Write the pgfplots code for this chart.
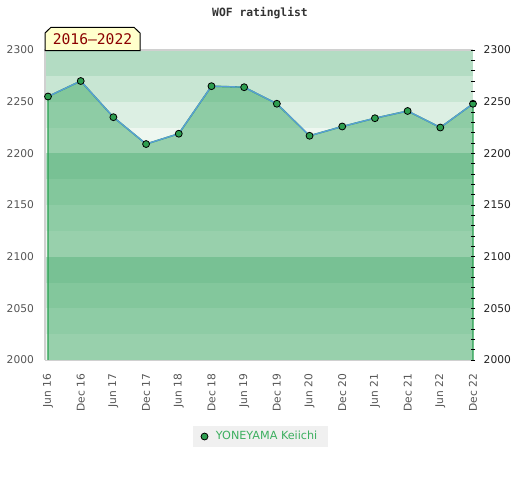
\documentclass[border=0pt]{standalone}
\usepackage{fontspec}
\setmainfont{DejaVu Sans}
\newfontfamily\monofont{DejaVu Sans Mono}
\usepackage{pgfplots}
\usepackage{pgfplotstable}
\pgfplotsset{compat=1.18}
\definecolor{bandA}{HTML}{EEF7F0}
\definecolor{bandB}{HTML}{DCEFE3}
\definecolor{bandC}{HTML}{C8E6D3}
\definecolor{bandD}{HTML}{B3DCC3}
\definecolor{fillG}{RGB}{49,162,91}
\definecolor{edgeG}{RGB}{40,160,80}
\definecolor{lineB}{RGB}{90,158,214}
\definecolor{markG}{RGB}{46,158,80}
\definecolor{legG}{RGB}{60,175,95}
\definecolor{legBG}{HTML}{F0F0F0}
\definecolor{boxY}{HTML}{FFFFCC}
\definecolor{darkred}{HTML}{8B0000}
\definecolor{tickL}{HTML}{555555}
\definecolor{tickR}{HTML}{222222}
\definecolor{titleC}{HTML}{333333}
\definecolor{frameC}{HTML}{D0D0D0}

\pgfplotstableread{
x y
0 2255
1 2270
2 2235
3 2209
4 2219
5 2265
6 2264
7 2248
8 2217
9 2226
10 2234
11 2241
12 2225
13 2248
}\ratings

\pgfplotstableread{
x y
0 2000
0 2255
1 2270
2 2235
3 2209
4 2219
5 2265
6 2264
7 2248
8 2217
9 2226
10 2234
11 2241
12 2225
13 2248
13 2000
}\ratingarea

\begin{document}
\begin{tikzpicture}
\fill[white] (0,0) rectangle (390pt,-360pt);
\path[use as bounding box] (0,0) rectangle (390pt,-360pt);
\begin{axis}[
  at={(33.75pt,-270pt)}, anchor=south west,
  scale only axis, width=321pt, height=232.5pt,
  xmin=-0.092, xmax=13, ymin=2000, ymax=2300,
  clip=false,
  axis line style={draw=none},
  tick style={draw=none},
  major tick length=0pt,
  xtick={0,...,13},
  xticklabels={Jun 16,Dec 16,Jun 17,Dec 17,Jun 18,Dec 18,Jun 19,Dec 19,Jun 20,Dec 20,Jun 21,Dec 21,Jun 22,Dec 22},
  xticklabel style={rotate=90, anchor=east, font=\fontsize{8}{9}\selectfont, text=tickL, xshift=-6.75pt},
  ytick={2000,2050,...,2300},
  ytick pos=left,
  yticklabel style={font=\fontsize{8}{9}\selectfont, text=tickL, xshift=-4.8pt},
  /pgf/number format/assume math mode=true,
  /pgf/number format/1000 sep={},
  legend style={at={(0.5035,-0.2468)}, anchor=center, fill=legBG, draw=none,
    font=\fontsize{8.4}{9}\selectfont, text=legG, inner xsep=6pt, inner ysep=2pt},
  legend cell align=left,
]
% background bands
\fill[bandA] (axis cs:-0.092,2000) rectangle (axis cs:13,2025);
\fill[bandB] (axis cs:-0.092,2025) rectangle (axis cs:13,2050);
\fill[bandC] (axis cs:-0.092,2050) rectangle (axis cs:13,2075);
\fill[bandD] (axis cs:-0.092,2075) rectangle (axis cs:13,2100);
\fill[bandA] (axis cs:-0.092,2100) rectangle (axis cs:13,2125);
\fill[bandB] (axis cs:-0.092,2125) rectangle (axis cs:13,2150);
\fill[bandC] (axis cs:-0.092,2150) rectangle (axis cs:13,2175);
\fill[bandD] (axis cs:-0.092,2175) rectangle (axis cs:13,2200);
\fill[bandA] (axis cs:-0.092,2200) rectangle (axis cs:13,2225);
\fill[bandB] (axis cs:-0.092,2225) rectangle (axis cs:13,2250);
\fill[bandC] (axis cs:-0.092,2250) rectangle (axis cs:13,2275);
\fill[bandD] (axis cs:-0.092,2275) rectangle (axis cs:13,2300);
% area under curve
\addplot[fill=fillG, fill opacity=0.45, draw=edgeG, draw opacity=1, line width=1.1pt, forget plot] table[x=x,y=y] {\ratingarea};
% frame
\draw[frameC, line width=1.5pt] (rel axis cs:0,0) -- (rel axis cs:0,1) -- (rel axis cs:1,1);
\draw[frameC, line width=0.75pt] (rel axis cs:0,0) -- (rel axis cs:1,0);
% line
\addplot[lineB, line width=1pt, forget plot] table[x=x,y=y] {\ratings};
% markers
\addplot[only marks, mark=*, mark size=2.6pt, mark options={fill=markG, draw=black, line width=0.6pt}] table[x=x,y=y] {\ratings};
\addlegendentry{\hspace{4pt}YONEYAMA Keiichi}
\end{axis}
\begin{axis}[
  at={(33.75pt,-270pt)}, anchor=south west,
  scale only axis, width=321pt, height=232.5pt,
  xmin=-0.092, xmax=13, ymin=2000, ymax=2300,
  hide x axis,
  axis line style={draw=none},
  ytick={2000,2050,...,2300},
  ytick pos=right,
  yticklabel pos=right,
  minor y tick num=4,
  tick align=center,
  major tick length=3pt, minor tick length=3pt,
  every tick/.style={black, line width=0.75pt},
  yticklabel style={font=\fontsize{8}{9}\selectfont, text=tickR, xshift=3pt},
  /pgf/number format/assume math mode=true,
  /pgf/number format/1000 sep={},
]
\addplot[draw=none, forget plot] coordinates {(0,2000)};
\end{axis}
\begin{scope}[x=0.75pt,y=-0.75pt]
\node[font=\monofont\bfseries\fontsize{8.5}{10}\selectfont, text=titleC] at (260,13) {WOF ratinglist};
\draw[black, fill=boxY, line width=0.75pt] (45,50.5) -- (45,33) -- (51,27.3) -- (134,27.3) -- (140,33) -- (140,50.5) -- cycle;
\node[font=\monofont\fontsize{11}{13}\selectfont, text=darkred] at (92.5,39.5) {2016–2022};
\end{scope}
\end{tikzpicture}
\end{document}
